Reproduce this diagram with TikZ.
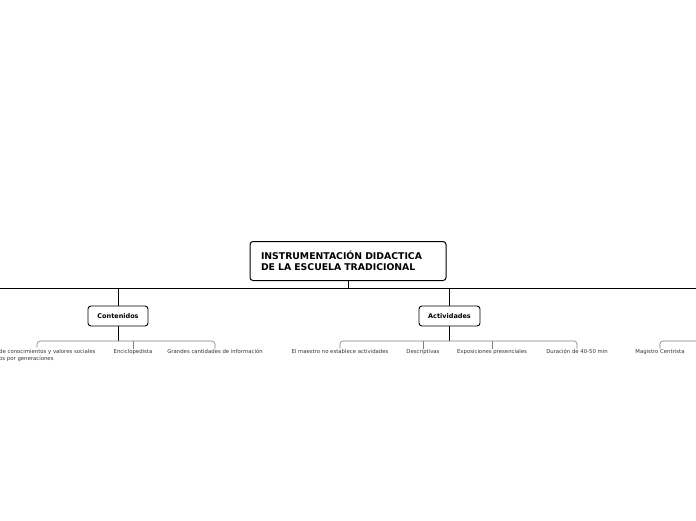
\documentclass[tikz,border=0pt]{standalone}
\usepackage{fontspec}
\setmainfont{DejaVu Sans}
\usepackage{xcolor}
\usetikzlibrary{positioning}
\definecolor{linegray}{HTML}{808080}
\definecolor{labeltext}{HTML}{333333}

\begin{document}
\begin{tikzpicture}[x=1pt,y=-1pt,
  rootbox/.style={draw, rounded corners=3pt, line width=1pt, align=left,
    font=\fontsize{9.3}{11}\selectfont\bfseries, text width=174pt,
    inner xsep=11pt, minimum height=39pt},
  mainbox/.style={draw, rounded corners=3pt, line width=0.9pt,
    font=\fontsize{6.5}{8}\selectfont\bfseries, minimum height=20pt, inner xsep=0pt},
  leaf/.style={text=labeltext, font=\fontsize{5.35}{6.6}\selectfont, inner sep=1pt, anchor=north},
  mainline/.style={line width=0.8pt},
  bracket/.style={draw=linegray, line width=0.6pt, rounded corners=3pt}]
\useasboundingbox (0,0) rectangle (696,520);
\clip (0,0) rectangle (696,520);
\fill [white] (0,0) rectangle (696,520);

% central topic
\node [rootbox] (root) at (348,261) {INSTRUMENTACIÓN DIDACTICA\\DE LA ESCUELA TRADICIONAL};
\coordinate (busL) at (0,288);
\coordinate (busR) at (696,288);
\draw [mainline] (busL) -- (busR);
\draw [mainline] (root.south) -- (root.south |- busL);

% main topics
\node [mainbox, minimum width=60pt] (cont) at (118,316) {Contenidos};
\node [mainbox, minimum width=61pt] (act) at (449.5,316) {Actividades};
\draw [mainline] (cont.north |- busL) -- (cont.north);
\draw [mainline] (act.north |- busL) -- (act.north);

% Contenidos
\coordinate (contbar) at (118,341);
\node [leaf, anchor=north west, align=left] (c1) at (-2,348.5) {de conocimientos y valores sociales\\os por generaciones};
\coordinate (c1tick) at (37,347.5);
\node [leaf] (c2) at (133,348.5) {Enciclopedista};
\node [leaf] (c3) at (215,348.5) {Grandes cantidades de información};
\draw [mainline] (cont.south) -- (contbar);
\draw [bracket] (c1tick) |- (contbar) -| (c3.north);
\draw [bracket] (c2.north) -- (c2.north |- contbar);

% Actividades
\coordinate (actbar) at (449.5,341);
\node [leaf] (a1) at (340,348.5) {El maestro no establece actividades};
\node [leaf] (a2) at (423,348.5) {Descriptivas};
\node [leaf] (a3) at (492,348.5) {Exposiciones presenciales};
\node [leaf] (a4) at (577,348.5) {Duración de 40-50 min};
\draw [mainline] (act.south) -- (actbar);
\draw [bracket] (a1.north) |- (actbar) -| (a4.north);
\draw [bracket] (a2.north) -- (a2.north |- actbar);
\draw [bracket] (a3.north) -- (a3.north |- actbar);

% right branch
\coordinate (mbar) at (710,341);
\node [leaf] (m1) at (660,348.5) {Magistro Centrista};
\draw [bracket] (m1.north) |- (mbar);
\end{tikzpicture}
\end{document}
